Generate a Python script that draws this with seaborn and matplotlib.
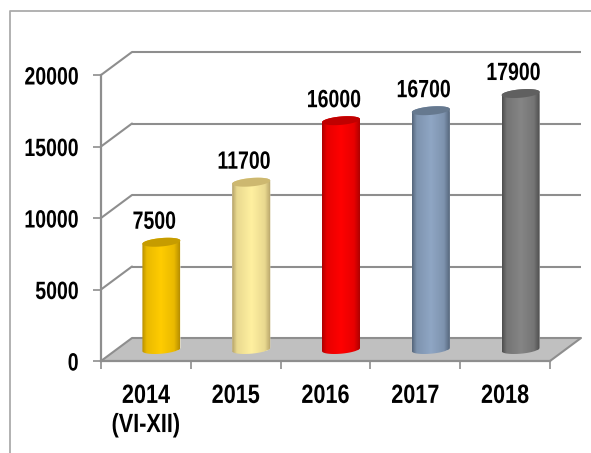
import numpy as np
import pandas as pd
import matplotlib
matplotlib.use("Agg")
import matplotlib.pyplot as plt
import seaborn as sns
from matplotlib.path import Path
from matplotlib.lines import Line2D
from matplotlib.patches import Polygon, Rectangle
from matplotlib.patheffects import AbstractPathEffect
from matplotlib.transforms import Affine2D

categories = ["2014\n(VI-XII)", "2015", "2016", "2017", "2018"]
values = [7500, 11700, 16000, 16700, 17900]
y_ticks = [0, 5000, 10000, 15000, 20000]
bar_centre = ["#FFCC00", "#FFF0A0", "#FF0000", "#8FA6C4", "#858585"]
bar_edge = ["#B88F00", "#B5A268", "#B00000", "#56677C", "#4E4E4E"]
bar_top = ["#C69C00", "#CDB870", "#C00000", "#66798F", "#606060"]


class Narrow(AbstractPathEffect):
    """Squeeze glyphs horizontally about the text's anchor side."""

    def __init__(self, factor, anchor="center"):
        super().__init__()
        self.factor = factor
        self.anchor = anchor

    def draw_path(self, renderer, gc, tpath, affine, rgbFace=None):
        xs = tpath.vertices[:, 0]
        pivot = xs.max() if self.anchor == "right" else (xs.min() + xs.max()) / 2
        t = Affine2D().translate(-pivot, 0).scale(self.factor, 1).translate(pivot, 0)
        renderer.draw_path(gc, tpath, t + affine, rgbFace)


W, H = 591, 453
sns.set_theme(style="white")
plt.rcParams["font.family"] = ["Liberation Sans", "DejaVu Sans"]
plt.rcParams["font.weight"] = "bold"
GRID = "#8E8E8E"
fig = plt.figure(figsize=(W / 100, H / 100), dpi=100, facecolor="white")
L, R, T, B = 101, 550, 75, 361
ax = fig.add_axes([L / W, (H - B) / H, (R - L) / W, (B - T) / H])
ax.patch.set_alpha(0)

df = pd.DataFrame({"year": categories, "value": values})
sns.barplot(data=df, x="year", y="value", hue="year", palette=bar_centre, dodge=False,
            legend=False, width=0.42, ax=ax, zorder=4)
ax.set_xlim(-0.5, 4.5)
ax.set_ylim(0, 20000)
ax.set_xlabel("")
ax.set_ylabel("")

rects = sorted([p for p in ax.patches if isinstance(p, Rectangle) and p.get_height() > 0],
               key=lambda p: p.get_x())

# px -> data factors
sx = 5 / (R - L)
sy = 20000 / (B - T)
depth = Affine2D().translate(31, 23)
bar_shift = Affine2D().translate(15.5, 11.5)
back = ax.transData + depth
bar_tr = ax.transData + bar_shift

# floor
dx, dy = 31 * sx, 23 * sy
ax.add_patch(Polygon([(-0.5, 0), (4.5, 0), (4.5 + dx, dy), (-0.5 + dx, dy)], closed=True,
                     facecolor="#C0C0C0", edgecolor="none", zorder=1, clip_on=False))
# walls
for t in y_ticks:
    ax.plot([-0.5, 4.5], [t, t], transform=back, color=GRID, lw=1.5, clip_on=False, zorder=2,
            solid_capstyle="butt")
    ax.plot([-0.5, -0.5 + dx], [t, t + dy], color=GRID, lw=1.5, clip_on=False, zorder=2)
ax.plot([4.5, 4.5 + dx], [0, dy], color=GRID, lw=1.5, clip_on=False, zorder=2)

# cylinders
a_px, b_px, shear = 19.0, 4.2, 1.6
tt = np.linspace(0, 2 * np.pi, 81)
for i, p in enumerate(rects):
    xc = p.get_x() + p.get_width() / 2
    v = p.get_height()
    ex = a_px * np.cos(tt) * sx
    ey = (b_px * np.sin(tt) + shear * np.cos(tt)) * sy
    up = tt <= np.pi
    low = tt >= np.pi
    # outline: top half of the upper ellipse then bottom half of the lower one
    ox = np.r_[xc + ex[up], xc + ex[low]]
    oy = np.r_[v + ey[up], ey[low]]
    outline = Path(np.c_[ox, oy])
    p.set_transform(bar_tr)
    p.set_clip_path(outline, bar_tr)
    stops = np.array([0, 0.12, 0.5, 0.85, 1.0])
    c0 = np.array(matplotlib.colors.to_rgb(bar_edge[i]))
    c1 = np.array(matplotlib.colors.to_rgb(bar_centre[i]))
    mix = np.interp(np.linspace(0, 1, 64), stops, [0, 0.7, 1, 0.7, 0])
    grad = (c0[None, :] * (1 - mix[:, None]) + c1[None, :] * mix[:, None])[None, :, :]
    im = ax.imshow(grad, extent=[xc - a_px * sx, xc + a_px * sx, -6 * sy, v + 6 * sy],
                   aspect="auto", transform=bar_tr, zorder=5, interpolation="bilinear")
    im.set_clip_path(outline, bar_tr)
    ax.add_patch(Polygon(np.c_[xc + ex, v + ey], closed=True, facecolor=bar_top[i],
                         edgecolor="none", transform=bar_tr, zorder=6, clip_on=False))
    ann = ax.annotate(f"{values[i]}", (i, v), xytext=(8.5 * 0.72, 32 * 0.72),
                      textcoords="offset points", ha="center", va="center", fontsize=18,
                      fontweight="bold", color="black", zorder=8, annotation_clip=False)
    ann.set_path_effects([Narrow(0.78)])
ax.set_xlim(-0.5, 4.5)
ax.set_ylim(0, 20000)

# axes
sns.despine(ax=ax)
for s in ("left", "bottom"):
    ax.spines[s].set_color(GRID)
    ax.spines[s].set_linewidth(1.6)
    ax.spines[s].set_zorder(3)
ax.set_yticks(y_ticks)
ax.set_xticks(range(5))
ax.set_xticklabels(categories)
ax.set_xticks(np.arange(-0.5, 5, 1), minor=True)
ax.tick_params(axis="x", which="major", length=0, pad=16.5, labelsize=19, labelcolor="black")
ax.tick_params(axis="x", which="minor", length=6, width=1.2, color=GRID, bottom=True)
ax.tick_params(axis="y", length=6, width=1.2, color=GRID, left=True, pad=10, labelsize=18,
               labelcolor="black")
for lab in ax.get_xticklabels():
    lab.set_linespacing(1.27)
    lab.set_fontweight("bold")
    lab.set_path_effects([Narrow(0.82)])
for lab in ax.get_yticklabels():
    lab.set_fontweight("bold")
    lab.set_path_effects([Narrow(0.78, "right")])

# outer frame
FRAME = "#ABABAB"
fig.add_artist(Line2D([10 / W, 10 / W, 1], [0, 1 - 11 / H, 1 - 11 / H], color=FRAME, lw=1.3))

fig.savefig("out.png", dpi=100, facecolor="white")
